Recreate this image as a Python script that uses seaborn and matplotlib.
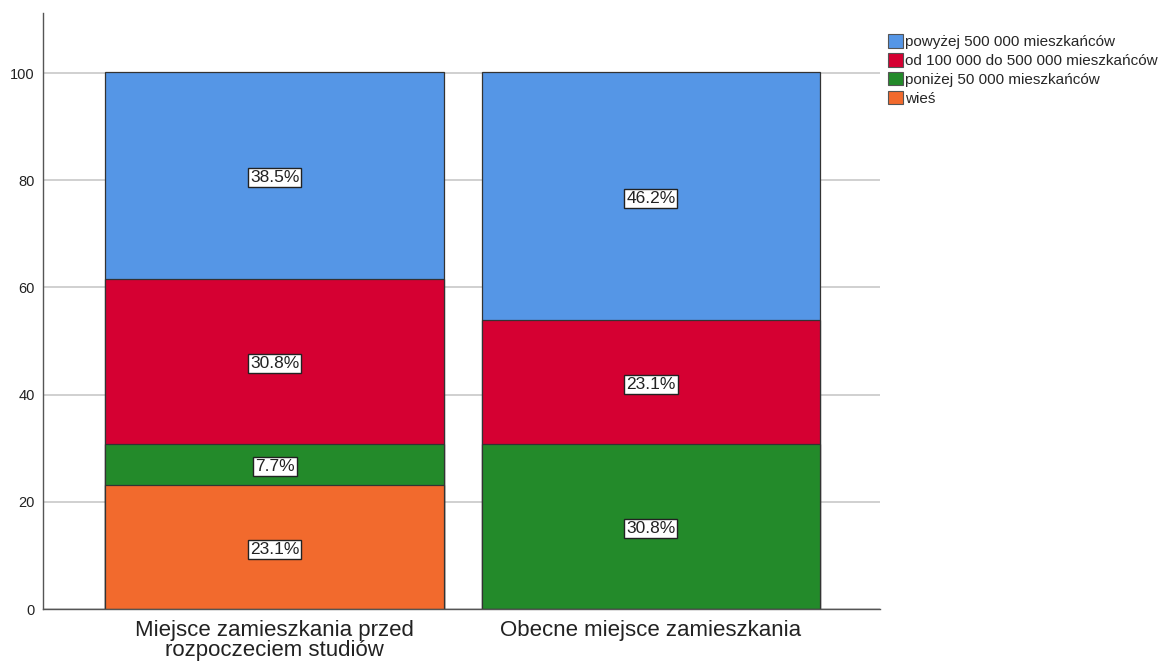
import numpy as np
import pandas as pd
import matplotlib
matplotlib.use('Agg')
import matplotlib.pyplot as plt
import seaborn as sns
from matplotlib.patches import Patch

# data (percent of respondents)
groups = ['Miejsce zamieszkania przed\nrozpoczeciem studiów', 'Obecne miejsce zamieszkania']
categories = ['wieś', 'poniżej 50 000 mieszkańców',
              'od 100 000 do 500 000 mieszkańców', 'powyżej 500 000 mieszkańców']
wies = [23.1, 0.0]
ponizej_50k = [7.7, 30.8]
od_100k_500k = [30.8, 23.1]
powyzej_500k = [38.5, 46.2]

colors = {
    'wieś': '#F26A2D',
    'poniżej 50 000 mieszkańców': '#238A2A',
    'od 100 000 do 500 000 mieszkańców': '#D50032',
    'powyżej 500 000 mieszkańców': '#5596E6',
}

sns.set_style('white')
plt.rcParams['font.family'] = ['Liberation Sans', 'DejaVu Sans']

values = np.array([wies, ponizej_50k, od_100k_500k, powyzej_500k])
cum = values.cumsum(axis=0)

fig = plt.figure(figsize=(11.58, 6.63), dpi=100)
ax = fig.add_axes([0.0371, 0.0814, 0.723, 0.899])

# draw cumulative totals from the top segment down so they stack
for i in range(len(categories) - 1, -1, -1):
    df = pd.DataFrame({'group': groups, 'value': cum[i]})
    sns.barplot(data=df, x='group', y='value', color=colors[categories[i]],
                saturation=1, width=0.9, edgecolor='#333333', linewidth=0.9,
                ax=ax, zorder=2)

# percentage labels in the middle of each segment
for j in range(len(groups)):
    for i in range(len(categories)):
        v = values[i, j]
        if v <= 0:
            continue
        mid = cum[i, j] - v / 2
        ax.text(j, mid - 0.4, f'{v:.1f}%', ha='center', va='center', fontsize=12.5,
                color='#222222', zorder=4,
                bbox=dict(boxstyle='square,pad=0.12', fc='white', ec='#222222', lw=1.0))

ax.set_xlim(-0.616, 1.61)
ax.set_ylim(0, 111.2)
ax.set_yticks([0, 20, 40, 60, 80, 100])
ax.yaxis.grid(True, color='#c8c8c8', linewidth=1.2, zorder=0)
ax.set_axisbelow(True)
ax.set_xlabel('')
ax.set_ylabel('')
ax.tick_params(axis='y', length=0, labelsize=10.5, pad=6, colors='#222222')
ax.tick_params(axis='x', length=0, labelsize=16, pad=8, colors='#222222')
for lbl in ax.get_xticklabels():
    lbl.set_linespacing(0.9)
for s in ['top', 'right']:
    ax.spines[s].set_visible(False)
for s in ['left', 'bottom']:
    ax.spines[s].set_color('#555555')
    ax.spines[s].set_linewidth(1.0)

handles = [Patch(facecolor=colors[c], edgecolor='#555555', linewidth=0.8)
           for c in reversed(categories)]
fig.legend(handles, list(reversed(categories)), loc='upper left',
           bbox_to_anchor=(0.7615, 0.958), frameon=False, fontsize=11,
           handlelength=1.0, handleheight=1.0, handletextpad=0.15,
           labelspacing=0.25, borderaxespad=0)

fig.savefig('out.png', dpi=100)
